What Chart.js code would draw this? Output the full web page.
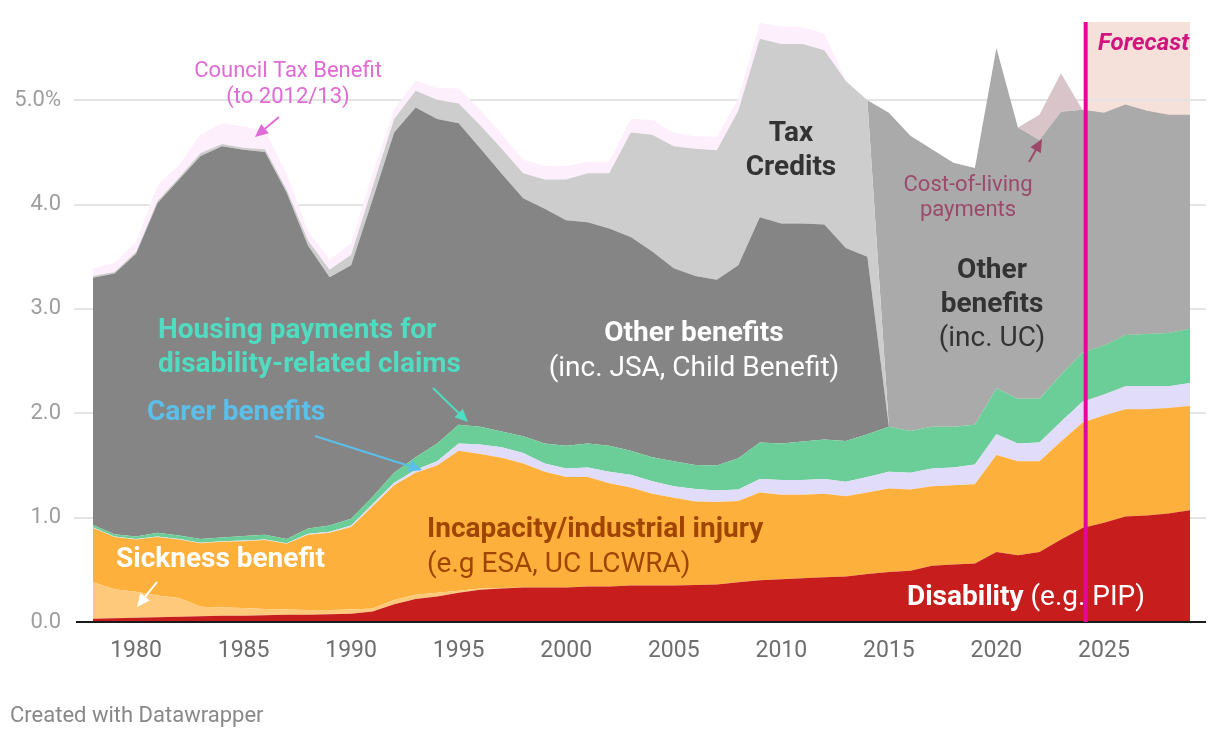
<!DOCTYPE html>
<html>
<head>
<meta charset="utf-8">
<title>Disability and incapacity benefit spending</title>
<script src="https://cdn.jsdelivr.net/npm/chart.js@4.4.1/dist/chart.umd.min.js"></script>
<style>
  html, body { margin: 0; padding: 0; background: #fff; }
  #wrap { position: relative; width: 1220px; height: 738px; }
</style>
</head>
<body>
<div id="wrap"><canvas id="grafico"></canvas></div>
<script>
// anos (eixo x)
const anos = [
  1978, 1979, 1980, 1981, 1982, 1983, 1984, 1985, 1986, 1987,
  1988, 1989, 1990, 1991, 1992, 1993, 1994, 1995, 1996, 1997,
  1998, 1999, 2000, 2001, 2002, 2003, 2004, 2005, 2006, 2007,
  2008, 2009, 2010, 2011, 2012, 2013, 2014, 2015, 2016, 2017,
  2018, 2019, 2020, 2021, 2022, 2023, 2024, 2025, 2026, 2027,
  2028, 2029
];

// % do PIB, cada série empilhada sobre a anterior
const disability = [
  0.03, 0.035, 0.04, 0.045, 0.05, 0.055, 0.06, 0.06, 0.065, 0.07,
  0.07, 0.075, 0.08, 0.10, 0.17, 0.22, 0.245, 0.28, 0.31, 0.32,
  0.33, 0.33, 0.33, 0.34, 0.34, 0.35, 0.35, 0.35, 0.355, 0.36,
  0.38, 0.40, 0.41, 0.42, 0.43, 0.435, 0.46, 0.48, 0.49, 0.54,
  0.55, 0.56, 0.67, 0.64, 0.67, 0.79, 0.90, 0.95, 1.01, 1.02,
  1.04, 1.07
];
const sickness = [
  0.35, 0.28, 0.25, 0.21, 0.18, 0.09, 0.08, 0.075, 0.06, 0.05,
  0.045, 0.04, 0.04, 0.03, 0.04, 0.04, 0.035, 0.02, 0.01, 0.005,
  0, 0, 0, 0, 0, 0, 0, 0, 0, 0,
  0, 0, 0, 0, 0, 0, 0, 0, 0, 0,
  0, 0, 0, 0, 0, 0, 0, 0, 0, 0,
  0, 0
];
const incapacity = [
  0.52, 0.50, 0.50, 0.56, 0.56, 0.61, 0.63, 0.64, 0.66, 0.63,
  0.72, 0.74, 0.79, 0.98, 1.10, 1.17, 1.22, 1.34, 1.29, 1.25,
  1.19, 1.11, 1.06, 1.05, 0.99, 0.94, 0.88, 0.84, 0.80, 0.79,
  0.78, 0.84, 0.81, 0.80, 0.80, 0.77, 0.78, 0.80, 0.78, 0.76,
  0.76, 0.76, 0.93, 0.90, 0.87, 0.94, 1.01, 1.03, 1.03, 1.02,
  1.01, 1.00
];
const carer = [
  0.005, 0.005, 0.005, 0.005, 0.005, 0.005, 0.005, 0.005, 0.005, 0.005,
  0.01, 0.01, 0.015, 0.02, 0.025, 0.03, 0.04, 0.07, 0.09, 0.10,
  0.10, 0.08, 0.08, 0.09, 0.11, 0.12, 0.12, 0.11, 0.12, 0.11,
  0.11, 0.13, 0.14, 0.14, 0.14, 0.14, 0.15, 0.16, 0.16, 0.17,
  0.17, 0.19, 0.20, 0.17, 0.18, 0.19, 0.20, 0.20, 0.22, 0.22,
  0.21, 0.22
];
const housing = [
  0.025, 0.02, 0.025, 0.035, 0.035, 0.035, 0.035, 0.045, 0.045, 0.04,
  0.05, 0.06, 0.065, 0.07, 0.095, 0.12, 0.17, 0.18, 0.17, 0.15,
  0.16, 0.19, 0.22, 0.23, 0.25, 0.23, 0.23, 0.24, 0.23, 0.24,
  0.30, 0.35, 0.35, 0.37, 0.38, 0.39, 0.41, 0.43, 0.40, 0.40,
  0.39, 0.38, 0.44, 0.43, 0.42, 0.45, 0.47, 0.47, 0.49, 0.50,
  0.51, 0.52
];
const otherBenefits = [
  2.37, 2.50, 2.71, 3.16, 3.41, 3.67, 3.75, 3.70, 3.67, 3.32,
  2.71, 2.38, 2.43, 2.85, 3.26, 3.35, 3.11, 2.89, 2.67, 2.47,
  2.28, 2.25, 2.16, 2.12, 2.08, 2.05, 1.97, 1.85, 1.81, 1.78,
  1.85, 2.16, 2.11, 2.09, 2.06, 1.85, 1.70, 0, 0, 0,
  0, 0, 0, 0, 0, 0, 0, 0, 0, 0,
  0, 0
];
const taxCredits = [
  0.015, 0.015, 0.015, 0.02, 0.02, 0.03, 0.02, 0.02, 0.025, 0.03,
  0.05, 0.07, 0.10, 0.12, 0.13, 0.16, 0.185, 0.19, 0.22, 0.24,
  0.24, 0.28, 0.39, 0.47, 0.53, 1.00, 1.12, 1.17, 1.22, 1.24,
  1.48, 1.71, 1.72, 1.72, 1.67, 1.60, 1.50, 0, 0, 0,
  0, 0, 0, 0, 0, 0, 0, 0, 0, 0,
  0, 0
];
const otherUC = [
  0, 0, 0, 0, 0, 0, 0, 0, 0, 0,
  0, 0, 0, 0, 0, 0, 0, 0, 0, 0,
  0, 0, 0, 0, 0, 0, 0, 0, 0, 0,
  0, 0, 0, 0, 0, 0, 0, 3.01, 2.83, 2.66,
  2.53, 2.46, 3.26, 2.60, 2.48, 2.52, 2.33, 2.23, 2.21, 2.14,
  2.09, 2.05
];
const costOfLiving = [
  0, 0, 0, 0, 0, 0, 0, 0, 0, 0,
  0, 0, 0, 0, 0, 0, 0, 0, 0, 0,
  0, 0, 0, 0, 0, 0, 0, 0, 0, 0,
  0, 0, 0, 0, 0, 0, 0, 0, 0, 0,
  0, 0, 0, 0, 0.24, 0.37, 0, 0, 0, 0,
  0, 0
];
const councilTax = [
  0.075, 0.085, 0.10, 0.15, 0.12, 0.18, 0.20, 0.20, 0.185, 0.15,
  0.09, 0.10, 0.11, 0.13, 0.09, 0.10, 0.115, 0.14, 0.15, 0.14,
  0.13, 0.13, 0.13, 0.11, 0.11, 0.13, 0.14, 0.13, 0.12, 0.13,
  0.12, 0.15, 0.17, 0.16, 0.16, 0, 0, 0, 0, 0,
  0, 0, 0, 0, 0, 0, 0, 0, 0, 0,
  0, 0
];

const xTicks = [1980, 1985, 1990, 1995, 2000, 2005, 2010, 2015, 2020, 2025];
const yTicks = [0, 1, 2, 3, 4, 5];
const inicioPrevisao = 2024.15; // linha "Forecast"

// ordem de empilhamento (de baixo para cima) e cores
const camadas = [
  { label: 'Disability', data: disability, cor: '#c71e1d' },
  { label: 'Sickness benefit', data: sickness, cor: '#fec97a' },
  { label: 'Incapacity/industrial injury', data: incapacity, cor: '#fdb13c' },
  { label: 'Carer benefits', data: carer, cor: '#e0dcf9' },
  { label: 'Housing payments', data: housing, cor: '#6bce98' },
  { label: 'Other benefits', data: otherBenefits, cor: '#858585' },
  { label: 'Tax Credits', data: taxCredits, cor: '#cdcdcd' },
  { label: 'Other benefits (inc. UC)', data: otherUC, cor: '#aaaaaa' },
  { label: 'Cost-of-living payments', data: costOfLiving, cor: '#d9c4c9' },
  { label: 'Council Tax Benefit', data: councilTax, cor: '#fdeffc' }
];

const F = 'Roboto, "Noto Sans", sans-serif';

function texto(ctx, str, x, y, font, cor, align) {
  ctx.font = font;
  ctx.fillStyle = cor;
  ctx.textAlign = align || 'left';
  ctx.textBaseline = 'middle';
  ctx.fillText(str, x, y + 2.5);
}

function seta(ctx, x1, y1, x2, y2, cor) {
  const a = Math.atan2(y2 - y1, x2 - x1);
  const cab = 13, meia = 6;
  ctx.strokeStyle = cor;
  ctx.fillStyle = cor;
  ctx.lineWidth = 2;
  ctx.beginPath();
  ctx.moveTo(x1, y1);
  ctx.lineTo(x2 - Math.cos(a) * cab * 0.7, y2 - Math.sin(a) * cab * 0.7);
  ctx.stroke();
  ctx.beginPath();
  ctx.moveTo(x2, y2);
  ctx.lineTo(x2 - cab * Math.cos(a) + meia * Math.sin(a), y2 - cab * Math.sin(a) - meia * Math.cos(a));
  ctx.lineTo(x2 - cab * Math.cos(a) - meia * Math.sin(a), y2 - cab * Math.sin(a) + meia * Math.cos(a));
  ctx.closePath();
  ctx.fill();
}

// fundo da previsão, grelha, linha base e anotações
const extras = {
  id: 'extras',
  beforeDatasetsDraw(chart) {
    const { ctx, chartArea, scales: { x, y } } = chart;
    ctx.save();
    const fx = x.getPixelForValue(inicioPrevisao);
    ctx.fillStyle = '#f6e1da';
    ctx.fillRect(fx, chartArea.top, chartArea.right - fx, chartArea.bottom - chartArea.top);
    ctx.strokeStyle = '#e4e4e4';
    ctx.lineWidth = 2;
    yTicks.slice(1).forEach(v => {
      const py = Math.round(y.getPixelForValue(v));
      ctx.beginPath();
      ctx.moveTo(74, py);
      ctx.lineTo(1206, py);
      ctx.stroke();
    });
    ctx.restore();
  },
  afterDatasetsDraw(chart) {
    const { ctx, chartArea, scales: { x, y } } = chart;
    ctx.save();
    // linha base
    const y0 = y.getPixelForValue(0);
    ctx.strokeStyle = '#1a1a1a';
    ctx.lineWidth = 2;
    ctx.beginPath();
    ctx.moveTo(76, y0);
    ctx.lineTo(1206, y0);
    ctx.stroke();
    // linha da previsão
    const fx = x.getPixelForValue(inicioPrevisao);
    ctx.strokeStyle = '#e5069d';
    ctx.lineWidth = 4;
    ctx.beginPath();
    ctx.moveTo(fx, chartArea.top);
    ctx.lineTo(fx, y0);
    ctx.stroke();

    const B = 'bold 28px ' + F, R = '28px ' + F, S = '22px ' + F;
    texto(ctx, 'Forecast', 1189, 41, 'italic bold 24px ' + F, '#d1157f', 'right');

    texto(ctx, 'Council Tax Benefit', 288, 69, S, '#e06ad6', 'center');
    texto(ctx, '(to 2012/13)', 288, 95, S, '#e06ad6', 'center');
    seta(ctx, 279, 117, 255, 137, '#e06ad6');

    texto(ctx, 'Tax', 791, 131, B, '#333333', 'center');
    texto(ctx, 'Credits', 791, 165, B, '#333333', 'center');

    texto(ctx, 'Cost-of-living', 968, 183, S, '#9c4a6a', 'center');
    texto(ctx, 'payments', 968, 208, S, '#9c4a6a', 'center');
    seta(ctx, 1029, 162, 1042, 139, '#9c4a6a');

    texto(ctx, 'Other', 992, 268, B, '#333333', 'center');
    texto(ctx, 'benefits', 992, 302, B, '#333333', 'center');
    texto(ctx, '(inc. UC)', 992, 336, R, '#333333', 'center');

    texto(ctx, 'Other benefits', 694, 331, B, '#ffffff', 'center');
    texto(ctx, '(inc. JSA, Child Benefit)', 694, 366, R, '#ffffff', 'center');

    texto(ctx, 'Housing payments for', 158, 328, B, '#4fdcc0');
    texto(ctx, 'disability-related claims', 158, 362, B, '#4fdcc0');
    seta(ctx, 433, 388, 468, 422, '#4fdcc0');

    texto(ctx, 'Carer benefits', 147, 410, B, '#5bbfe9');
    seta(ctx, 315, 436, 422, 470, '#5bbfe9');

    texto(ctx, 'Incapacity/industrial injury', 427, 527, B, '#a04500');
    texto(ctx, '(e.g ESA, UC LCWRA)', 427, 562, R, '#a04500');

    texto(ctx, 'Sickness benefit', 116, 557, B, '#ffffff');
    seta(ctx, 157, 582, 137, 607, '#ffffff');

    texto(ctx, 'Disability', 907, 595, B, '#ffffff');
    ctx.font = B;
    const w = ctx.measureText('Disability').width;
    texto(ctx, ' (e.g. PIP)', 907 + w, 595, R, '#ffffff');

    texto(ctx, 'Created with Datawrapper', 10, 714, '22px ' + F, '#888888');
    ctx.restore();
  }
};

const ctx = document.getElementById('grafico').getContext('2d');

const config = {
  type: 'line',
  data: {
    datasets: camadas.map((c, i) => ({
      label: c.label,
      data: c.data.map((v, k) => ({ x: anos[k], y: v })),
      backgroundColor: c.cor,
      borderColor: 'transparent',
      borderWidth: 0,
      pointRadius: 0,
      tension: 0,
      fill: i === 0 ? 'origin' : '-1'
    }))
  },
  options: {
    responsive: true,
    maintainAspectRatio: false,
    devicePixelRatio: 1,
    animation: false,
    events: [],
    layout: { padding: { top: 22, right: 30, left: 0, bottom: 0 } },
    scales: {
      x: {
        type: 'linear',
        min: 1978,
        max: 2029,
        grid: { display: false, drawTicks: false },
        border: { display: false },
        afterBuildTicks: axis => { axis.ticks = xTicks.map(v => ({ value: v })); },
        afterFit: axis => {
          axis.height = 116;
          axis.paddingLeft = 0;
          axis.paddingRight = 0;
        },
        ticks: {
          color: '#6e6e6e',
          padding: 15,
          maxRotation: 0,
          font: { family: F, size: 23 },
          callback: v => String(v)
        }
      },
      y: {
        stacked: true,
        min: 0,
        max: 5.75,
        grid: { display: false, drawTicks: false },
        border: { display: false },
        afterBuildTicks: axis => { axis.ticks = yTicks.map(v => ({ value: v })); },
        afterFit: axis => {
          axis.width = 93;
          axis.paddingTop = 0;
          axis.paddingBottom = 0;
        },
        ticks: {
          color: '#9e9e9e',
          padding: 32,
          font: { family: F, size: 22 },
          callback: v => v === 5 ? '5.0%' : v.toFixed(1)
        }
      }
    },
    plugins: {
      legend: { display: false },
      tooltip: { enabled: false }
    }
  },
  plugins: [extras]
};

const chart = new Chart(ctx, config);
</script>
</body>
</html>
